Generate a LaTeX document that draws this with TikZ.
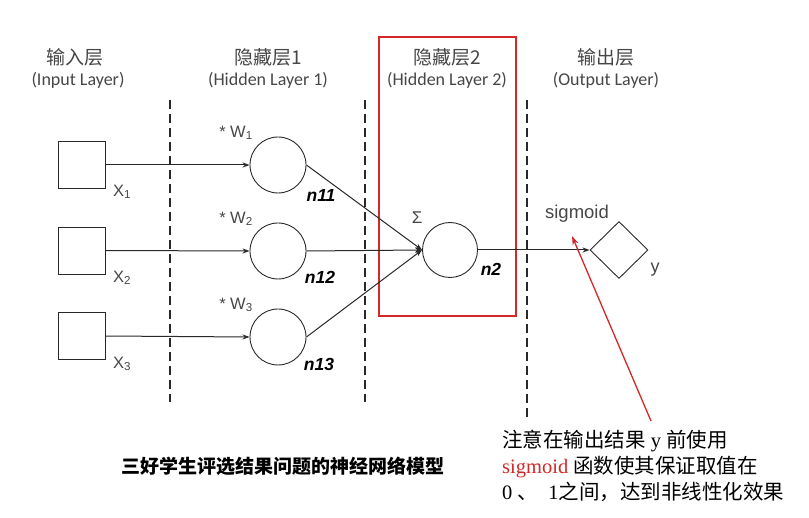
\documentclass[tikz,border=0pt]{standalone}
\usepackage{fontspec}
\setmainfont{Liberation Sans}
\newfontfamily\cjkfont{Noto Sans CJK SC}
\newfontfamily\calfont{Carlito}
\newfontfamily\seriffont{Liberation Serif}
\usetikzlibrary{shapes.geometric,arrows.meta}
\definecolor{frame}{RGB}{210,40,40}
\definecolor{ink}{RGB}{40,40,40}
\definecolor{lab}{RGB}{70,70,70}
\tikzset{
  inbox/.style={draw=ink,line width=0.9pt,minimum size=47pt,inner sep=0pt},
  neuron/.style={draw=ink,line width=0.9pt,circle,minimum size=56pt,inner sep=0pt},
  outd/.style={draw=ink,line width=0.9pt,diamond,minimum width=58pt,minimum height=57pt,inner sep=0pt},
  conn/.style={ink,line width=1pt,-{Stealth[length=7pt,width=5pt]}},
  sep/.style={ink,line width=1.1pt,dash pattern=on 9pt off 5pt},
  head/.style={font=\cjkfont\fontsize{19}{22}\selectfont,text=lab},
  sub/.style={font=\calfont\fontsize{18}{21}\selectfont,text=lab},
  xlab/.style={font=\fontsize{16.5}{19}\selectfont,text=lab},
  nlab/.style={font=\bfseries\itshape\fontsize{17.5}{20}\selectfont},
  note/.style={anchor=west,font=\fontsize{20.5}{26}\selectfont,inner sep=0pt},
}
\begin{document}
\begin{tikzpicture}[x=1pt,y=-1pt]
\useasboundingbox (0,0) rectangle (809,518);
% headings
\node[head] (h1) at (75,57) {输入层};
\node[sub] (s1) at (78,80) {(Input Layer)};
\node[head] (h2) at (268,57) {隐藏层1};
\node[sub] (s2) at (268,80) {(Hidden Layer 1)};
\node[head] (h3) at (447,57) {隐藏层2};
\node[sub] (s3) at (447,80) {(Hidden Layer 2)};
\node[head] (h4) at (606,57) {输出层};
\node[sub] (s4) at (606,80) {(Output Layer)};
% red frame
\draw[frame,line width=1.2pt] (379,37) rectangle (516,316);
% separators
\coordinate (d1t) at (170,100); \coordinate (d1b) at (170,402);
\coordinate (d2t) at (365,100); \coordinate (d2b) at (365,402);
\coordinate (d3t) at (527,100); \coordinate (d3b) at (527,418);
\draw[sep] (d1t) -- (d1b);
\draw[sep] (d2t) -- (d2b);
\draw[sep] (d3t) -- (d3b);
% inputs
\node[inbox] (x1) at (81.5,165) {};
\node[inbox] (x2) at (81.5,250.5) {};
\node[inbox] (x3) at (81.5,336) {};
\node[xlab] (lx1) at (122,192) {X\textsubscript{1}};
\node[xlab] (lx2) at (122,278) {X\textsubscript{2}};
\node[xlab] (lx3) at (122,364) {X\textsubscript{3}};
% hidden 1
\node[neuron] (n11) at (278,165) {};
\node[neuron] (n12) at (278,251) {};
\node[neuron] (n13) at (278,337) {};
\node[xlab] (w1) at (236,133) {* W\textsubscript{1}};
\node[xlab] (w2) at (236,219) {* W\textsubscript{2}};
\node[xlab] (w3) at (236,305) {* W\textsubscript{3}};
\node[nlab] (l11) at (321,195) {n11};
\node[nlab] (l12) at (320,277) {n12};
\node[nlab] (l13) at (319,364) {n13};
% hidden 2
\node[neuron,minimum size=55pt] (n2) at (450,250) {};
\node[font=\fontsize{17}{20}\selectfont,text=lab] (sig) at (417,218) {Σ};
\node[nlab] (l2) at (491,269) {n2};
% output
\node[outd] (y) at (619,250) {};
\node[font=\fontsize{18}{20}\selectfont,text=lab] (ly) at (655,270) {y};
\node[font=\fontsize{18.5}{20}\selectfont,text=lab] (sg) at (577,214) {sigmoid};
% connectors
\draw[conn] (x1.east) -- (n11.west);
\draw[conn] (x2.east) -- (n12.west);
\draw[conn] (x3.east) -- (n13.west);
\draw[conn] (n11.east) -- (n2.west);
\draw[conn] (n12.east) -- (n2.west);
\draw[conn] (n13.east) -- (n2.west);
\draw[conn] (n2.east) -- (y.west);
% annotation
\coordinate (ra) at (651,421);
\coordinate (rb) at (572,236);
\draw[frame,line width=1.3pt,-{Stealth[length=9pt,width=6pt]}] (ra) -- (rb);
\node[note] (a1) at (502,441) {\cjkfont 注意在输出结果\seriffont\ y \cjkfont 前使用};
\node[note] (a2) at (502,467) {\seriffont\textcolor{frame}{sigmoid} \cjkfont 函数使其保证取值在};
\node[note] (a3) at (502,492) {\seriffont 0\ \cjkfont 、\seriffont\ \ 1\cjkfont 之间，达到非线性化效果};
% caption
\node[font=\cjkfont\bfseries\fontsize{19}{22}\selectfont] (cap) at (283,466) {三好学生评选结果问题的神经网络模型};
\end{tikzpicture}
\end{document}
